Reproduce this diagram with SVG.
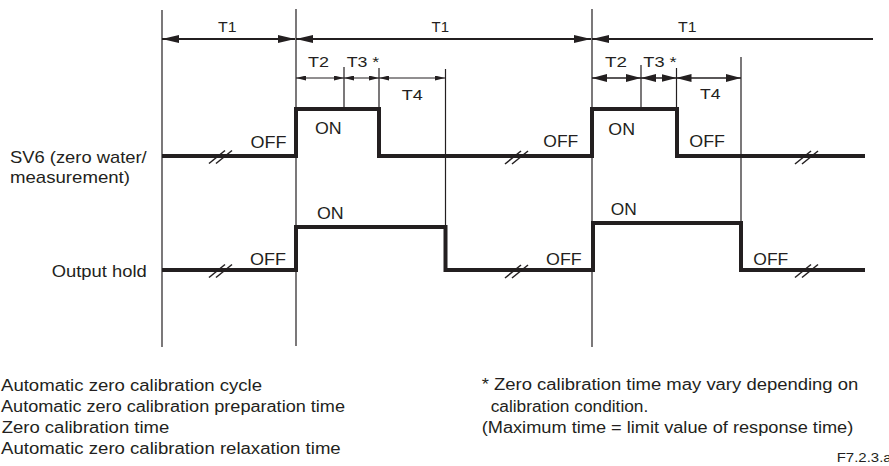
<svg xmlns="http://www.w3.org/2000/svg" width="889" height="466" viewBox="0 0 889 466">
<style>
  text { font-family: "Liberation Sans", Arial, Helvetica, sans-serif; fill: #231f20; }
  .lbl { font-size: 17px; }
  .tl { font-size: 15.5px; }
  .note { font-size: 16px; }
  .code { font-size: 12px; }
  .grid { stroke: #231f20; stroke-width: 1.2; fill: none; }
  .sig { stroke: #231f20; stroke-width: 4; fill: none; stroke-linejoin: miter; stroke-linecap: butt; }
  .dimL { stroke: #231f20; stroke-width: 2; fill: none; }
  .dimS { stroke: #231f20; stroke-width: 1; fill: none; marker-start: url(#ahS); marker-end: url(#ahS); }
  .dimM { stroke: #231f20; stroke-width: 1.6; fill: none; marker-start: url(#ahM); marker-end: url(#ahM); }
  .brk line { stroke: #231f20; stroke-width: 1.5; }
</style>
<defs>
  <marker id="ahL" markerUnits="userSpaceOnUse" markerWidth="17" markerHeight="8" viewBox="0 0 17 8" refX="17" refY="4" orient="auto-start-reverse">
    <path d="M0,0 L17,4 L0,8 z" fill="#231f20"/>
  </marker>
  <marker id="ahS" markerUnits="userSpaceOnUse" markerWidth="10" markerHeight="5" viewBox="0 0 10 5" refX="10" refY="2.5" orient="auto-start-reverse">
    <path d="M0,0 L10,2.5 L0,5 z" fill="#231f20"/>
  </marker>
  <marker id="ahM" markerUnits="userSpaceOnUse" markerWidth="15" markerHeight="8" viewBox="0 0 15 8" refX="15" refY="4" orient="auto-start-reverse">
    <path d="M0,0 L15,4 L0,8 z" fill="#231f20"/>
  </marker>
  <g id="brk" class="brk">
    <line x1="-12" y1="7" x2="4" y2="-6"/>
    <line x1="-5" y1="7" x2="11" y2="-6"/>
  </g>
</defs>

<g id="gridlines">
  <line class="grid" x1="162" y1="10" x2="162" y2="347"/>
  <line class="grid" x1="296" y1="9" x2="296" y2="346"/>
  <line class="grid" x1="592" y1="9" x2="592" y2="347"/>
  <line class="grid" x1="445.5" y1="69" x2="445.5" y2="270"/>
  <line class="grid" x1="741" y1="57" x2="741" y2="270"/>
  <line class="grid" x1="344" y1="67" x2="344" y2="109"/>
  <line class="grid" x1="379" y1="68" x2="379" y2="109"/>
  <line class="grid" x1="641" y1="65" x2="641" y2="109"/>
  <line class="grid" x1="676.5" y1="68" x2="676.5" y2="109"/>
</g>

<g id="dimensions">
  <line class="dimL" x1="162" y1="39" x2="295" y2="39" marker-start="url(#ahL)" marker-end="url(#ahL)"/>
  <line class="dimL" x1="296" y1="39" x2="591" y2="39" marker-start="url(#ahL)" marker-end="url(#ahL)"/>
  <line class="dimL" x1="592" y1="39" x2="873" y2="39" marker-start="url(#ahL)"/>
  <line class="dimS" x1="296" y1="78" x2="344" y2="78"/>
  <line class="dimS" x1="344" y1="78" x2="379" y2="78"/>
  <line class="dimS" x1="379" y1="78" x2="445" y2="78"/>
  <line class="dimM" x1="592" y1="78" x2="641" y2="78"/>
  <line class="dimM" x1="641" y1="78" x2="676.5" y2="78"/>
  <line class="dimM" x1="676.5" y1="78" x2="741" y2="78"/>
  <text class="tl" x="218" y="32" textLength="18.5" lengthAdjust="spacingAndGlyphs">T1</text>
  <text class="tl" x="431.5" y="32" textLength="17.5" lengthAdjust="spacingAndGlyphs">T1</text>
  <text class="tl" x="678" y="32" textLength="18.5" lengthAdjust="spacingAndGlyphs">T1</text>
  <text class="tl" x="308" y="67" textLength="21" lengthAdjust="spacingAndGlyphs">T2</text>
  <text class="tl" x="346.7" y="67" textLength="32.6" lengthAdjust="spacingAndGlyphs">T3 *</text>
  <text class="tl" x="401.7" y="100" textLength="21" lengthAdjust="spacingAndGlyphs">T4</text>
  <text class="tl" x="605" y="67" textLength="22" lengthAdjust="spacingAndGlyphs">T2</text>
  <text class="tl" x="643.3" y="67" textLength="33.4" lengthAdjust="spacingAndGlyphs">T3 *</text>
  <text class="tl" x="700" y="98.5" textLength="20.5" lengthAdjust="spacingAndGlyphs">T4</text>
</g>

<g id="sv6">
  <path class="sig" d="M162,156 H296 V109 H379 V156 H592 V109 H677 V156 H865"/>
  <use href="#brk" x="221" y="156.5"/>
  <use href="#brk" x="517" y="157"/>
  <use href="#brk" x="807" y="157"/>
  <text class="lbl" x="10" y="162.7" textLength="136.7" lengthAdjust="spacingAndGlyphs">SV6 (zero water/</text>
  <text class="lbl" x="10" y="183.3" textLength="120" lengthAdjust="spacingAndGlyphs">measurement)</text>
  <text class="lbl" x="250.5" y="147.5" textLength="36" lengthAdjust="spacingAndGlyphs">OFF</text>
  <text class="lbl" x="315" y="134" textLength="26.7" lengthAdjust="spacingAndGlyphs">ON</text>
  <text class="lbl" x="543.3" y="147.3" textLength="35" lengthAdjust="spacingAndGlyphs">OFF</text>
  <text class="lbl" x="608.3" y="135" textLength="26.7" lengthAdjust="spacingAndGlyphs">ON</text>
  <text class="lbl" x="689.3" y="146.7" textLength="35.7" lengthAdjust="spacingAndGlyphs">OFF</text>
</g>

<g id="output-hold">
  <path class="sig" d="M162,270 H296 V227 H445.5 V270 H593 V223 H741 V270 H865"/>
  <use href="#brk" x="221" y="270.5"/>
  <use href="#brk" x="517" y="271"/>
  <use href="#brk" x="807" y="270.5"/>
  <text class="lbl" x="51.7" y="277.3" textLength="95" lengthAdjust="spacingAndGlyphs">Output hold</text>
  <text class="lbl" x="250" y="265" textLength="36" lengthAdjust="spacingAndGlyphs">OFF</text>
  <text class="lbl" x="317" y="219" textLength="26.7" lengthAdjust="spacingAndGlyphs">ON</text>
  <text class="lbl" x="546" y="265" textLength="35.7" lengthAdjust="spacingAndGlyphs">OFF</text>
  <text class="lbl" x="610.7" y="215" textLength="26" lengthAdjust="spacingAndGlyphs">ON</text>
  <text class="lbl" x="753.3" y="265" textLength="35" lengthAdjust="spacingAndGlyphs">OFF</text>
</g>

<g id="notes">
  <text class="note" x="1" y="390.7" textLength="261" lengthAdjust="spacingAndGlyphs">Automatic zero calibration cycle</text>
  <text class="note" x="1" y="412" textLength="344" lengthAdjust="spacingAndGlyphs">Automatic zero calibration preparation time</text>
  <text class="note" x="1.7" y="433.3" textLength="167.6" lengthAdjust="spacingAndGlyphs">Zero calibration time</text>
  <text class="note" x="1" y="454.3" textLength="339.7" lengthAdjust="spacingAndGlyphs">Automatic zero calibration relaxation time</text>
  <text class="note" x="481.7" y="390" textLength="376.6" lengthAdjust="spacingAndGlyphs">* Zero calibration time may vary depending on</text>
  <text class="note" x="490.7" y="411.7" textLength="157.6" lengthAdjust="spacingAndGlyphs">calibration condition.</text>
  <text class="note" x="481.7" y="432.5" textLength="371.6" lengthAdjust="spacingAndGlyphs">(Maximum time = limit value of response time)</text>
  <text class="code" x="836.7" y="461.7" textLength="55" lengthAdjust="spacingAndGlyphs">F7.2.3.a</text>
</g>
</svg>
